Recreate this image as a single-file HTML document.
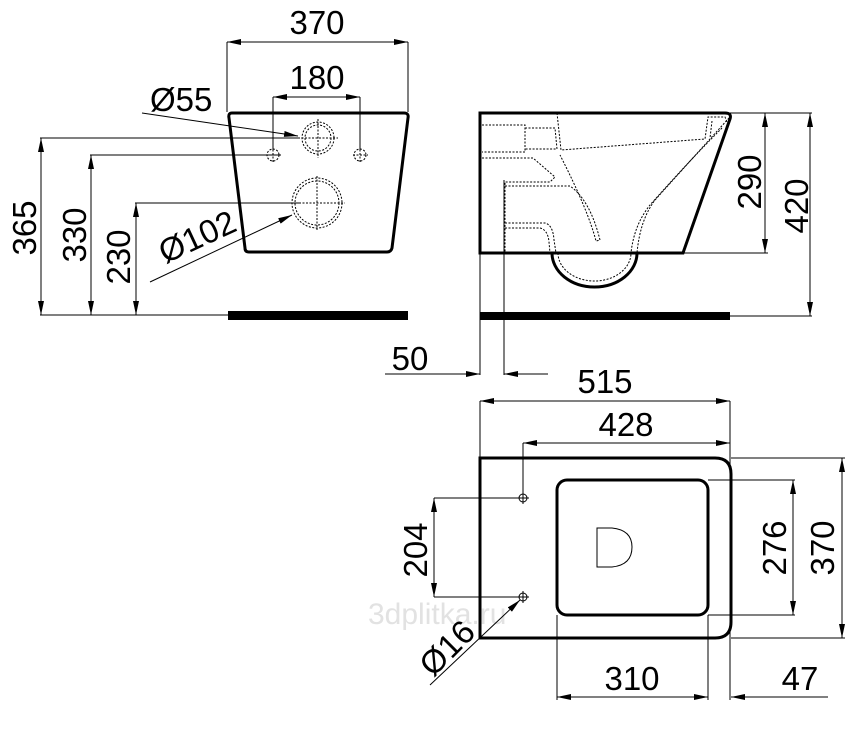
<!DOCTYPE html>
<html><head><meta charset="utf-8"><style>
html,body{margin:0;padding:0;background:#fff}
svg{display:block}
text{font-family:"Liberation Sans",Arial,sans-serif;font-size:33px;fill:#000}
</style></head><body>
<svg width="866" height="733" viewBox="0 0 866 733" xmlns="http://www.w3.org/2000/svg">
<defs>
<marker id="a" viewBox="0 0 14 6" refX="14" refY="3" markerWidth="14" markerHeight="6" orient="auto-start-reverse" markerUnits="userSpaceOnUse"><path d="M0,0L14,3L0,6z" fill="#000"/></marker>
</defs>
<text x="368" y="624" style="font-size:30px;fill:#e2e2e2">3dplitka.ru</text>
<g stroke="#000" stroke-width="1" fill="none">
<line x1="227" y1="42" x2="227" y2="112"/><line x1="408" y1="42" x2="408" y2="112"/>
<line x1="227" y1="42" x2="408" y2="42" marker-start="url(#a)" marker-end="url(#a)"/>
<line x1="273" y1="97" x2="273" y2="150"/><line x1="360" y1="97" x2="360" y2="150"/>
<line x1="273" y1="97" x2="360" y2="97" marker-start="url(#a)" marker-end="url(#a)"/>
<line x1="40" y1="138" x2="300" y2="138"/>
<line x1="90" y1="155" x2="280" y2="155"/>
<line x1="135" y1="203" x2="300" y2="203"/>
<line x1="40" y1="315" x2="228" y2="315"/>
<line x1="41" y1="138" x2="41" y2="315" marker-start="url(#a)" marker-end="url(#a)"/>
<line x1="91" y1="155" x2="91" y2="315" marker-start="url(#a)" marker-end="url(#a)"/>
<line x1="136" y1="203" x2="136" y2="315" marker-start="url(#a)" marker-end="url(#a)"/>
<line x1="142" y1="113" x2="298" y2="136" marker-end="url(#a)"/>
<line x1="150" y1="282" x2="292" y2="215" marker-end="url(#a)"/>
<path d="M232,113 L404,113 Q409,113 408,118 L392,248 Q391,252 387,252 L249,252 Q245,252 245,248 L229,118 Q228,113 232,113Z" stroke-width="3"/>
<g stroke-dasharray="2,1.5">
<circle cx="318" cy="138" r="16"/><circle cx="318" cy="138" r="13"/>
<circle cx="317" cy="203" r="25"/><circle cx="317" cy="203" r="22"/>
<circle cx="273" cy="155" r="6"/><circle cx="360" cy="155" r="6"/>
<line x1="318" y1="119" x2="318" y2="158"/><line x1="298" y1="138" x2="338" y2="138"/>
<line x1="317" y1="176" x2="317" y2="230"/><line x1="292" y1="203" x2="345" y2="203"/>
<line x1="273" y1="146" x2="273" y2="163"/><line x1="266" y1="155" x2="281" y2="155"/>
<line x1="360" y1="146" x2="360" y2="163"/><line x1="353" y1="155" x2="368" y2="155"/>
</g>
<path d="M480,253 L480,113 L725,113 Q732,113 730,119 L683,253 Z" stroke-width="3"/>
<path d="M552,253 A42.5,34 0 0 0 637,253" stroke-width="3"/>
<g stroke-dasharray="2,1.5">
<path d="M558,253 A36.5,28 0 0 0 631,253"/>
<path d="M482,125 L525,125 L525,152 L482,152"/>
<path d="M525,128 L555,128 L557,149 L525,149"/>
<path d="M557,113 L561,150 L705,139 L708,117 L725,117 L727,122"/>
<path d="M712,121 L710,138"/>
<path d="M729,118 Q700,150 655,200 Q640,220 637,253"/>
<path d="M722,128 Q690,160 650,205 Q634,225 631,253"/>
<path d="M482,158 L533,158 L555,177 L550,182 L505,182 L505,253"/>
<path d="M505,186 L570,186 Q590,200 600,240 L596,241 Q588,210 560,155"/>
<path d="M505,223 L545,223 Q553,225 554,240 L556,253"/>
<path d="M505,228 L540,228 Q548,230 549,242 L550,253"/>
</g>
<line x1="480" y1="253" x2="480" y2="375"/><line x1="504" y1="180" x2="504" y2="375"/>
<line x1="385" y1="374" x2="480" y2="374" marker-end="url(#a)"/>
<line x1="548" y1="374" x2="504" y2="374" marker-end="url(#a)"/>
<line x1="730" y1="113" x2="812" y2="113"/><line x1="683" y1="253" x2="768" y2="253"/>
<line x1="730" y1="316" x2="812" y2="316"/>
<line x1="765" y1="113" x2="765" y2="253" marker-start="url(#a)" marker-end="url(#a)"/>
<line x1="810" y1="113" x2="810" y2="316" marker-start="url(#a)" marker-end="url(#a)"/>
<line x1="480" y1="401" x2="480" y2="458"/><line x1="730" y1="401" x2="730" y2="700"/>
<line x1="480" y1="401" x2="730" y2="401" marker-start="url(#a)" marker-end="url(#a)"/>
<line x1="523" y1="443" x2="523" y2="492"/>
<line x1="523" y1="443" x2="730" y2="443" marker-start="url(#a)" marker-end="url(#a)"/>
<path d="M480,458 L715,458 Q731,458 731,474 L731,622 Q731,638 715,638 L480,638 Z" stroke-width="3"/>
<rect x="557" y="480" width="151" height="135" rx="10" stroke-width="3"/>
<path d="M597,528 L612,528 Q632,530 632,547 Q632,565 612,567 L597,567 Z"/>
<circle cx="523" cy="498" r="4"/><circle cx="523" cy="597" r="4"/>
<line x1="517" y1="498" x2="529" y2="498"/><line x1="523" y1="492" x2="523" y2="504"/>
<line x1="517" y1="597" x2="529" y2="597"/><line x1="523" y1="591" x2="523" y2="603"/>
<line x1="434" y1="498" x2="520" y2="498"/><line x1="434" y1="597" x2="520" y2="597"/>
<line x1="434" y1="498" x2="434" y2="597" marker-start="url(#a)" marker-end="url(#a)"/>
<line x1="430" y1="685" x2="520" y2="600" marker-end="url(#a)"/>
<line x1="708" y1="480" x2="795" y2="480"/><line x1="708" y1="615" x2="795" y2="615"/>
<line x1="793" y1="480" x2="793" y2="615" marker-start="url(#a)" marker-end="url(#a)"/>
<line x1="731" y1="458" x2="845" y2="458"/><line x1="731" y1="638" x2="845" y2="638"/>
<line x1="842" y1="458" x2="842" y2="638" marker-start="url(#a)" marker-end="url(#a)"/>
<line x1="557" y1="615" x2="557" y2="700"/><line x1="708" y1="615" x2="708" y2="700"/>
<line x1="557" y1="697" x2="708" y2="697" marker-start="url(#a)" marker-end="url(#a)"/>
<line x1="828" y1="697" x2="731" y2="697" marker-end="url(#a)"/>
</g>
<rect x="228" y="311" width="180" height="9" fill="#000"/>
<rect x="480" y="312" width="250" height="8" fill="#000"/>
<g>
<text x="317" y="34" text-anchor="middle">370</text>
<text x="317" y="89" text-anchor="middle">180</text>
<text x="150" y="111">Ø55</text>
<text transform="translate(202,247) rotate(-25)" text-anchor="middle">Ø102</text>
<text transform="translate(36,228) rotate(-90)" text-anchor="middle">365</text>
<text transform="translate(86,235) rotate(-90)" text-anchor="middle">330</text>
<text transform="translate(130,257) rotate(-90)" text-anchor="middle">230</text>
<text x="410" y="370" text-anchor="middle">50</text>
<text transform="translate(761,182) rotate(-90)" text-anchor="middle">290</text>
<text transform="translate(808,206) rotate(-90)" text-anchor="middle">420</text>
<text x="605" y="393" text-anchor="middle">515</text>
<text x="626" y="436" text-anchor="middle">428</text>
<text transform="translate(427,550) rotate(-90)" text-anchor="middle">204</text>
<text transform="translate(786,548) rotate(-90)" text-anchor="middle">276</text>
<text transform="translate(834,548) rotate(-90)" text-anchor="middle">370</text>
<text x="632" y="690" text-anchor="middle">310</text>
<text x="800" y="690" text-anchor="middle">47</text>
<text transform="translate(455,656) rotate(-45)" text-anchor="middle">Ø16</text>
</g>
</svg>
</body></html>
